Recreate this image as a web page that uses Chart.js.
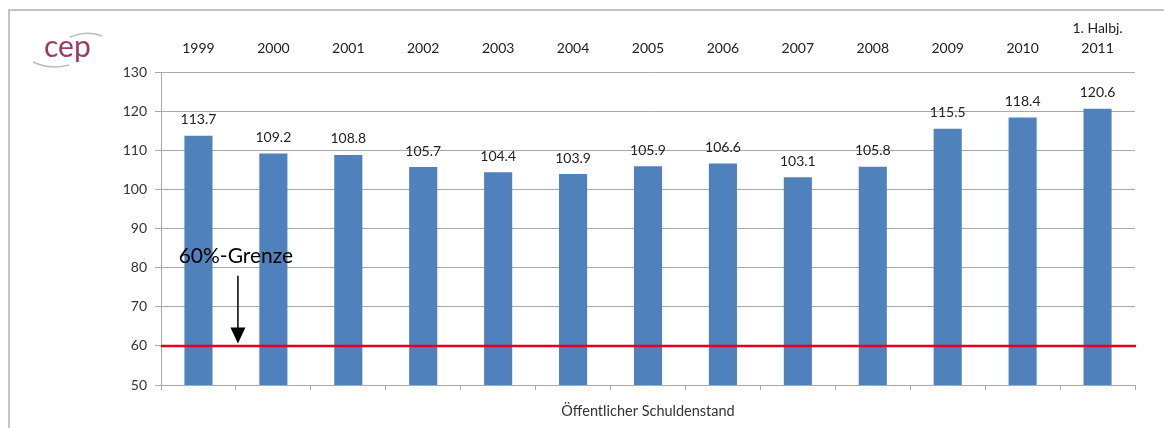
<!DOCTYPE html>
<html>
<head>
<meta charset="utf-8">
<script src="https://cdn.jsdelivr.net/npm/chart.js@4.4.1/dist/chart.umd.min.js"></script>
<style>
  html, body { margin: 0; padding: 0; background: #ffffff; }
  #wrap { width: 1164px; height: 428px; position: relative; }
</style>
</head>
<body>
<div id="wrap"><canvas id="c" width="1164" height="428"></canvas></div>
<script>
const categories = ['1999','2000','2001','2002','2003','2004','2005','2006','2007','2008','2009','2010',['1. Halbj.','2011']];
const debtValues = [113.7, 109.2, 108.8, 105.7, 104.4, 103.9, 105.9, 106.6, 103.1, 105.8, 115.5, 118.4, 120.6];
const yTicks = [50, 60, 70, 80, 90, 100, 110, 120, 130];
const limitValue = 60;
const limitLabel = '60%-Grenze';
const axisTitle = 'Öffentlicher Schuldenstand';
const logoText = 'cep';

const FONT = 'Lato, "Open Sans", sans-serif';
const GRID = '#a9a9a9';

const decorPlugin = {
  id: 'decor',
  beforeDraw(chart) {
    const ctx = chart.ctx;
    ctx.save();
    // frame
    ctx.strokeStyle = '#c4c4c4';
    ctx.lineWidth = 2;
    ctx.beginPath();
    ctx.moveTo(9, 428);
    ctx.lineTo(9, 10);
    ctx.lineTo(1164, 10);
    ctx.stroke();
    // logo
    ctx.fillStyle = '#9a3d5e';
    ctx.font = '30px ' + FONT;
    ctx.textAlign = 'left';
    ctx.textBaseline = 'alphabetic';
    ctx.fillText(logoText, 44, 57);
    ctx.strokeStyle = '#bdbdbd';
    ctx.lineWidth = 1.5;
    ctx.beginPath();
    ctx.moveTo(70, 37);
    ctx.quadraticCurveTo(88, 30, 102, 36);
    ctx.stroke();
    ctx.beginPath();
    ctx.moveTo(33, 62);
    ctx.quadraticCurveTo(50, 70, 69, 65);
    ctx.stroke();
    ctx.restore();
  },
  afterDatasetsDraw(chart) {
    const ctx = chart.ctx;
    const xs = chart.scales.x;
    const ys = chart.scales.y;
    const area = chart.chartArea;
    ctx.save();
    // value labels
    const meta = chart.getDatasetMeta(0);
    ctx.fillStyle = '#222';
    ctx.font = '14px ' + FONT;
    ctx.textAlign = 'center';
    ctx.textBaseline = 'bottom';
    meta.data.forEach((bar, i) => {
      ctx.fillText(debtValues[i].toFixed(1), bar.x, bar.y - 9);
    });
    // limit line
    const yl = ys.getPixelForValue(limitValue);
    ctx.strokeStyle = '#e3001b';
    ctx.lineWidth = 2.5;
    ctx.beginPath();
    ctx.moveTo(area.left, yl);
    ctx.lineTo(area.right + 1, yl);
    ctx.stroke();
    // annotation text + arrow
    const ax = xs.getPixelForValue(0.5) + 2;
    ctx.fillStyle = '#000';
    ctx.font = '21px ' + FONT;
    ctx.textAlign = 'center';
    ctx.textBaseline = 'middle';
    ctx.fillText(limitLabel, ax - 2, ys.getPixelForValue(83.0));
    const yTop = ys.getPixelForValue(77.9);
    const yTip = ys.getPixelForValue(60.6);
    ctx.strokeStyle = '#000';
    ctx.lineWidth = 1.5;
    ctx.beginPath();
    ctx.moveTo(ax, yTop);
    ctx.lineTo(ax, yTip - 12);
    ctx.stroke();
    ctx.beginPath();
    ctx.moveTo(ax - 7.5, yTip - 16);
    ctx.lineTo(ax + 7.5, yTip - 16);
    ctx.lineTo(ax, yTip);
    ctx.closePath();
    ctx.fill();
    ctx.restore();
  }
};

new Chart(document.getElementById('c'), {
  type: 'bar',
  data: {
    labels: categories,
    datasets: [{
      data: debtValues,
      backgroundColor: '#4f81bd',
      borderWidth: 0,
      barPercentage: 0.75,
      categoryPercentage: 0.5,
      xAxisID: 'x'
    }]
  },
  options: {
    responsive: false,
    animation: false,
    events: [],
    layout: { padding: { left: 0, right: 29, top: 0, bottom: 0 } },
    plugins: { legend: { display: false }, tooltip: { enabled: false } },
    scales: {
      x: {
        position: 'top',
        offset: true,
        grid: { display: false, drawTicks: false },
        border: { display: false },
        ticks: { color: '#222', font: { family: FONT, size: 14, lineHeight: 1.45 }, padding: 13, maxRotation: 0, autoSkip: false },
        afterFit(s) { s.height = 72; }
      },
      x2: {
        type: 'category',
        labels: categories.map(c => Array.isArray(c) ? c.join(' ') : c),
        position: 'bottom',
        offset: true,
        grid: { offset: true, drawOnChartArea: false, drawTicks: true, tickLength: 5, color: GRID },
        border: { display: false },
        ticks: { display: false },
        title: { display: true, text: axisTitle, color: '#333', font: { family: FONT, size: 14.5 }, padding: { top: 4, bottom: 8 } },
        afterFit(s) { s.height = 43; }
      },
      y: {
        min: 50,
        max: 130,
        afterBuildTicks(s) { s.ticks = yTicks.map(v => ({ value: v })); },
        grid: { color: GRID, lineWidth: 1, tickLength: 6 },
        border: { display: true, color: GRID },
        ticks: { color: '#333', font: { family: FONT, size: 14 }, padding: 8 },
        afterFit(s) { s.width = 161; }
      }
    }
  },
  plugins: [decorPlugin]
});
</script>
</body>
</html>
